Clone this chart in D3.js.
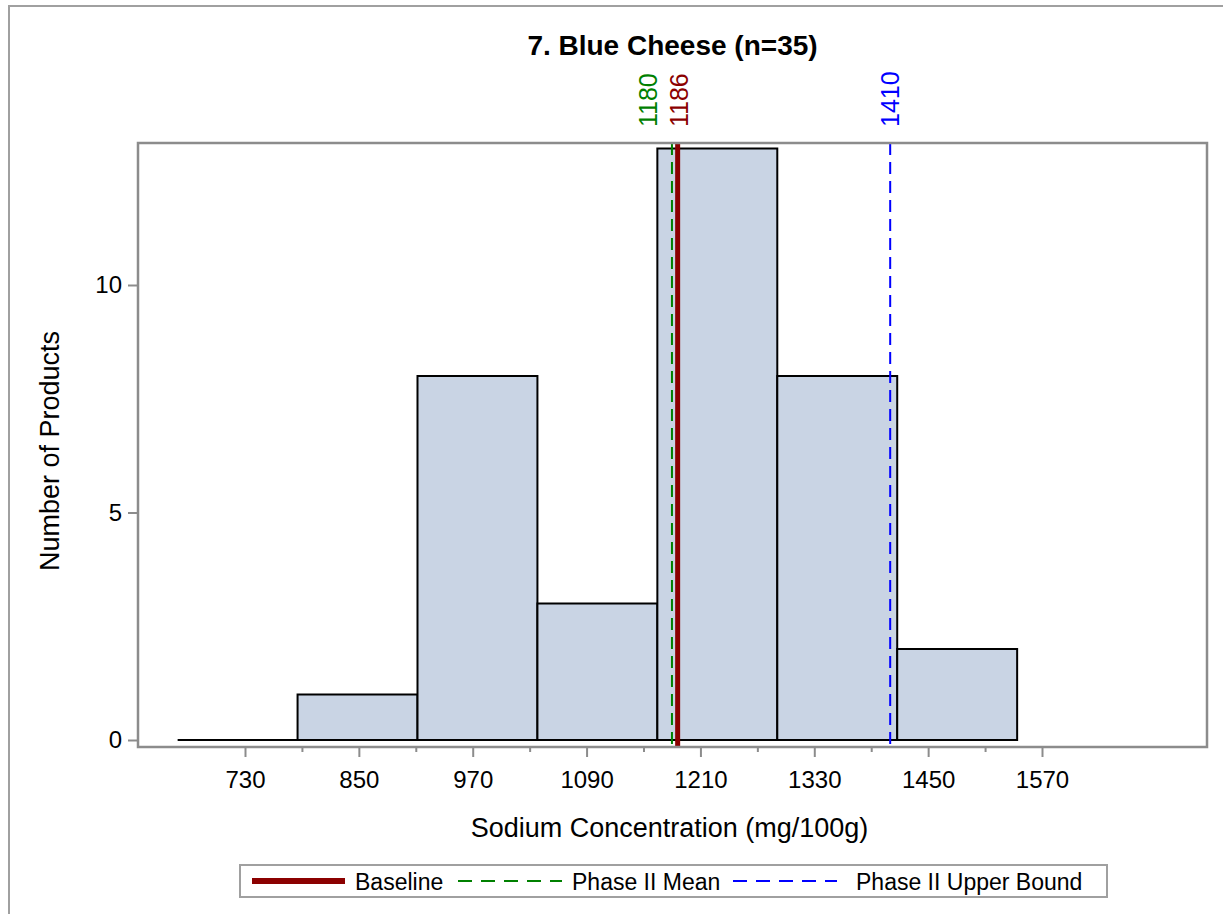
<!DOCTYPE html>
<html>
<head>
<meta charset="utf-8">
<script src="https://cdnjs.cloudflare.com/ajax/libs/d3/7.8.5/d3.min.js"></script>
<style>
  body { margin: 0; background: #fff; }
  svg { display: block; font-family: "Liberation Sans", Arial, sans-serif; }
</style>
</head>
<body>
<svg id="chart" width="1223" height="914"></svg>
<script>
// histogram data
var binstart = 659;
var binwidth = 126.4;
var counts = [0, 1, 8, 3, 13, 8, 2];

var xticks = [730, 850, 970, 1090, 1210, 1330, 1450, 1570];
var xminorticks = [790, 910, 1030, 1150, 1270, 1390, 1510];
var yticks = [0, 5, 10];

var refnames = ["Baseline", "Phase II Mean", "Phase II Upper Bound"];
var refvalues = [1186, 1180, 1410];
var refcolors = ["#8b0000", "#008000", "#0000ff"];

var svg = d3.select("#chart");

// plot frame
var frame = {left: 138, top: 143, right: 1207, bottom: 747};

var x = d3.scaleLinear().domain([730, 1570]).range([245, 1042]);
var y = d3.scaleLinear().domain([0, 10]).range([740, 285]);

// outer border, only left and top show
svg.append("path")
  .attr("d", "M9,914 V6 H1223")
  .attr("fill", "none")
  .attr("stroke", "#a0a0a0")
  .attr("stroke-width", 2);

// title
svg.append("text")
  .attr("x", (frame.left + frame.right) / 2)
  .attr("y", 55)
  .attr("text-anchor", "middle")
  .attr("font-weight", "bold")
  .attr("font-size", "28px")
  .text("7. Blue Cheese (n=35)");

// bars
var bins = counts.map(function(c, i) {
  return {x0: binstart + i * binwidth, x1: binstart + (i + 1) * binwidth, n: c};
});

svg.append("g")
  .selectAll("rect")
  .data(bins.filter(function(d) { return d.n > 0; }))
  .enter().append("rect")
    .attr("x", function(d) { return x(d.x0); })
    .attr("y", function(d) { return y(d.n); })
    .attr("width", function(d) { return x(d.x1) - x(d.x0); })
    .attr("height", function(d) { return y(0) - y(d.n); })
    .attr("fill", "#c9d4e4")
    .attr("stroke", "#000")
    .attr("stroke-width", 2);

// the empty bin still draws its bottom edge
svg.append("line")
  .attr("x1", x(bins[0].x0))
  .attr("x2", x(bins[0].x1))
  .attr("y1", y(0))
  .attr("y2", y(0))
  .attr("stroke", "#000")
  .attr("stroke-width", 2);

// reference lines
var dashes = [null, "12,7", "12,7"];
var lbloffset = [1, -24, 0];
for (var i = 0; i < refvalues.length; i++) {
  svg.append("line")
    .attr("x1", x(refvalues[i]))
    .attr("x2", x(refvalues[i]))
    .attr("y1", frame.top)
    .attr("y2", frame.bottom)
    .attr("stroke", refcolors[i])
    .attr("stroke-width", i == 0 ? 5 : 2)
    .attr("stroke-dasharray", dashes[i]);

  var lx = x(refvalues[i]) + lbloffset[i] + 9;
  svg.append("text")
    .attr("transform", "translate(" + lx + ",127) rotate(-90)")
    .attr("font-size", "25px")
    .attr("fill", refcolors[i])
    .text(refvalues[i]);
}

// frame drawn on top
svg.append("rect")
  .attr("x", frame.left)
  .attr("y", frame.top)
  .attr("width", frame.right - frame.left)
  .attr("height", frame.bottom - frame.top)
  .attr("fill", "none")
  .attr("stroke", "#8c8c8c")
  .attr("stroke-width", 2.5);

// x axis
var xaxis = svg.append("g").attr("transform", "translate(0," + frame.bottom + ")");
xaxis.call(d3.axisBottom(x).tickValues(xticks).tickSize(10).tickPadding(14).tickFormat(d3.format("d")));
xaxis.append("g").call(d3.axisBottom(x).tickValues(xminorticks).tickSize(5).tickFormat(""));
xaxis.selectAll(".domain").remove();
xaxis.selectAll("line").attr("stroke", "#8c8c8c").attr("stroke-width", 2);
xaxis.selectAll("text").attr("font-size", "24px").attr("fill", "#000")
  .attr("font-family", "Liberation Sans, Arial, sans-serif");

// y axis
var yaxis = svg.append("g").attr("transform", "translate(" + frame.left + ",0)");
yaxis.call(d3.axisLeft(y).tickValues(yticks).tickSize(10).tickPadding(6));
yaxis.selectAll(".domain").remove();
yaxis.selectAll("line").attr("stroke", "#8c8c8c").attr("stroke-width", 2);
yaxis.selectAll("text").attr("font-size", "24px").attr("fill", "#000")
  .attr("font-family", "Liberation Sans, Arial, sans-serif");

// axis labels
svg.append("text")
  .attr("x", (frame.left + frame.right) / 2 - 3)
  .attr("y", 837)
  .attr("text-anchor", "middle")
  .attr("font-size", "27px")
  .text("Sodium Concentration (mg/100g)");

svg.append("text")
  .attr("transform", "translate(59," + ((frame.top + frame.bottom) / 2 + 6) + ") rotate(-90)")
  .attr("text-anchor", "middle")
  .attr("font-size", "27px")
  .text("Number of Products");

// legend
function addlegend() {
  var lg = svg.append("g");
  lg.append("rect")
    .attr("x", 240).attr("y", 865)
    .attr("width", 867).attr("height", 32)
    .attr("fill", "#fff")
    .attr("stroke", "#a0a0a0")
    .attr("stroke-width", 2);

  var xs = [252, 458, 733];
  var txs = [355, 572, 856];
  for (var row = 0; row < refnames.length; row++) {
    lg.append("line")
      .attr("x1", xs[row]).attr("x2", xs[row] + (row == 0 ? 93 : 104))
      .attr("y1", 881).attr("y2", 881)
      .attr("stroke", refcolors[row])
      .attr("stroke-width", row == 0 ? 6 : 2)
      .attr("stroke-dasharray", row == 0 ? null : "14,9");
    lg.append("text")
      .attr("x", txs[row])
      .attr("y", 890)
      .attr("font-size", "23px")
      .text(refnames[row]);
  }
}
addlegend();
</script>
</body>
</html>
